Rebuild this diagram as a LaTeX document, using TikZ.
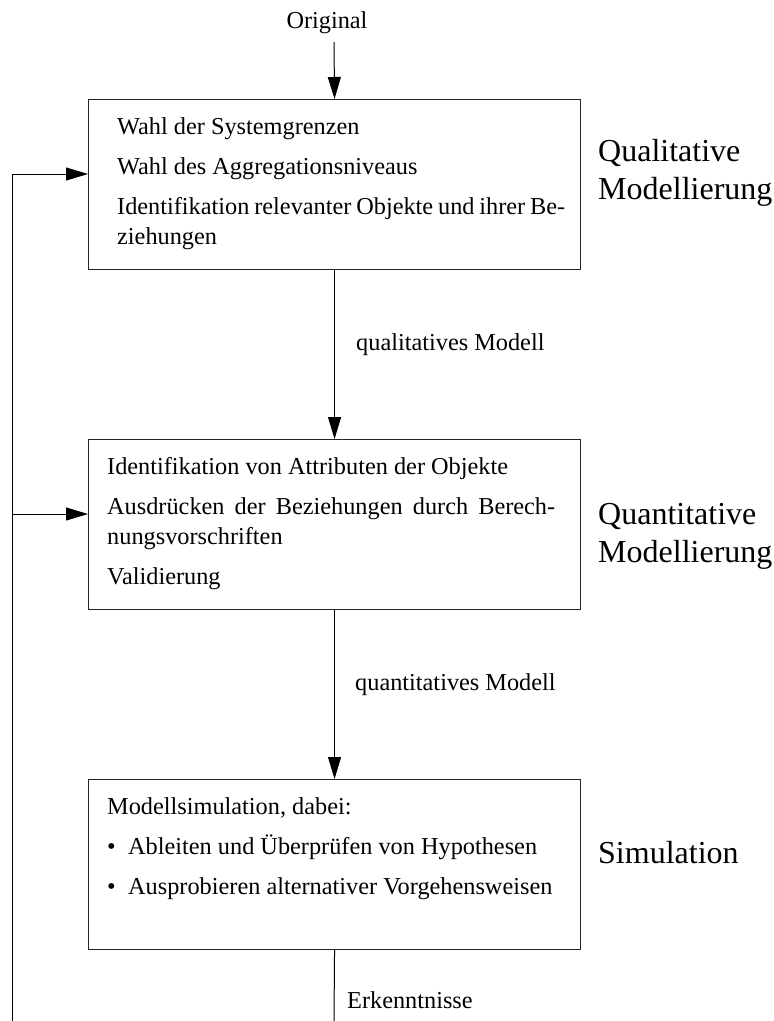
\documentclass[tikz,border=0pt]{standalone}
\usepackage{fontspec}
\setmainfont{Liberation Serif}
\usetikzlibrary{arrows.meta,calc}
\begin{document}
\begin{tikzpicture}[x=1pt,y=-1pt,
  box/.style={draw=black!85,line width=1.1pt,minimum width=492pt,minimum height=170pt,inner sep=0pt,anchor=north west},
  txt/.style={anchor=base west,inner sep=0pt,font=\fontsize{24.3}{30}\selectfont},
  lab/.style={anchor=base west,inner sep=0pt,font=\fontsize{32}{38}\selectfont},
  conn/.style={line width=1pt},
  arr/.style={line width=1pt,-{Triangle[length=22pt,width=13pt]}}]
\useasboundingbox (0,0) rectangle (774,1021);
% boxes
\node[box] (b1) at (88,99) {};
\node[box] (b2) at (88,439) {};
\node[box] (b3) at (88,779) {};
% box texts
\node[txt] (t11) at (117,134) {Wahl der Systemgrenzen};
\node[txt] (t12) at (117,174) {Wahl des Aggregationsniveaus};
\node[txt] (t13) at (117,214) {\makebox[448pt][s]{Identifikation relevanter Objekte und ihrer Be-}};
\node[txt] (t14) at (117,244) {ziehungen};
\node[txt] (t21) at (107,474) {Identifikation von Attributen der Objekte};
\node[txt] (t22) at (107,514) {\makebox[448pt][s]{Ausdrücken der Beziehungen durch Berech-}};
\node[txt] (t23) at (107,544) {nungsvorschriften};
\node[txt] (t24) at (107,584) {Validierung};
\node[txt] (t31) at (107,814) {Modellsimulation, dabei:};
\node[txt] (t32) at (107,854) {\makebox[21pt][l]{\textbullet}Ableiten und Überprüfen von Hypothesen};
\node[txt] (t33) at (107,894) {\makebox[21pt][l]{\textbullet}Ausprobieren alternativer Vorgehensweisen};
% side labels
\node[lab] (l1a) at (598,161) {Qualitative};
\node[lab] (l1b) at (598,199) {Modellierung};
\node[lab] (l2a) at (598,524) {Quantitative};
\node[lab] (l2b) at (598,562) {Modellierung};
\node[lab] (l3a) at (598,863) {Simulation};
% top input
\node[txt,anchor=base] (orig) at (327,28) {Original};
\coordinate (origEnd) at (334,42);
\draw[arr] (origEnd) -- (b1.north);
% main flow
\draw[arr] (b1.south) -- (b2.north);
\node[txt] (m1) at (356,350) {qualitatives Modell};
\draw[arr] (b2.south) -- (b3.north);
\node[txt] (m2) at (355,690) {quantitatives Modell};
\coordinate (outEnd) at (334,1021);
\draw[conn] (b3.south) -- (outEnd);
\node[txt] (m3) at (347,1008) {Erkenntnisse};
% feedback line
\coordinate (fbBottom) at (12,1021);
\coordinate (k1) at (12,174);
\coordinate (k2) at (12,514);
\draw[conn] (fbBottom) -- (k1);
\draw[arr] (k1) -- (k1 -| b1.west);
\draw[arr] (k2) -- (k2 -| b2.west);
\end{tikzpicture}
\end{document}
